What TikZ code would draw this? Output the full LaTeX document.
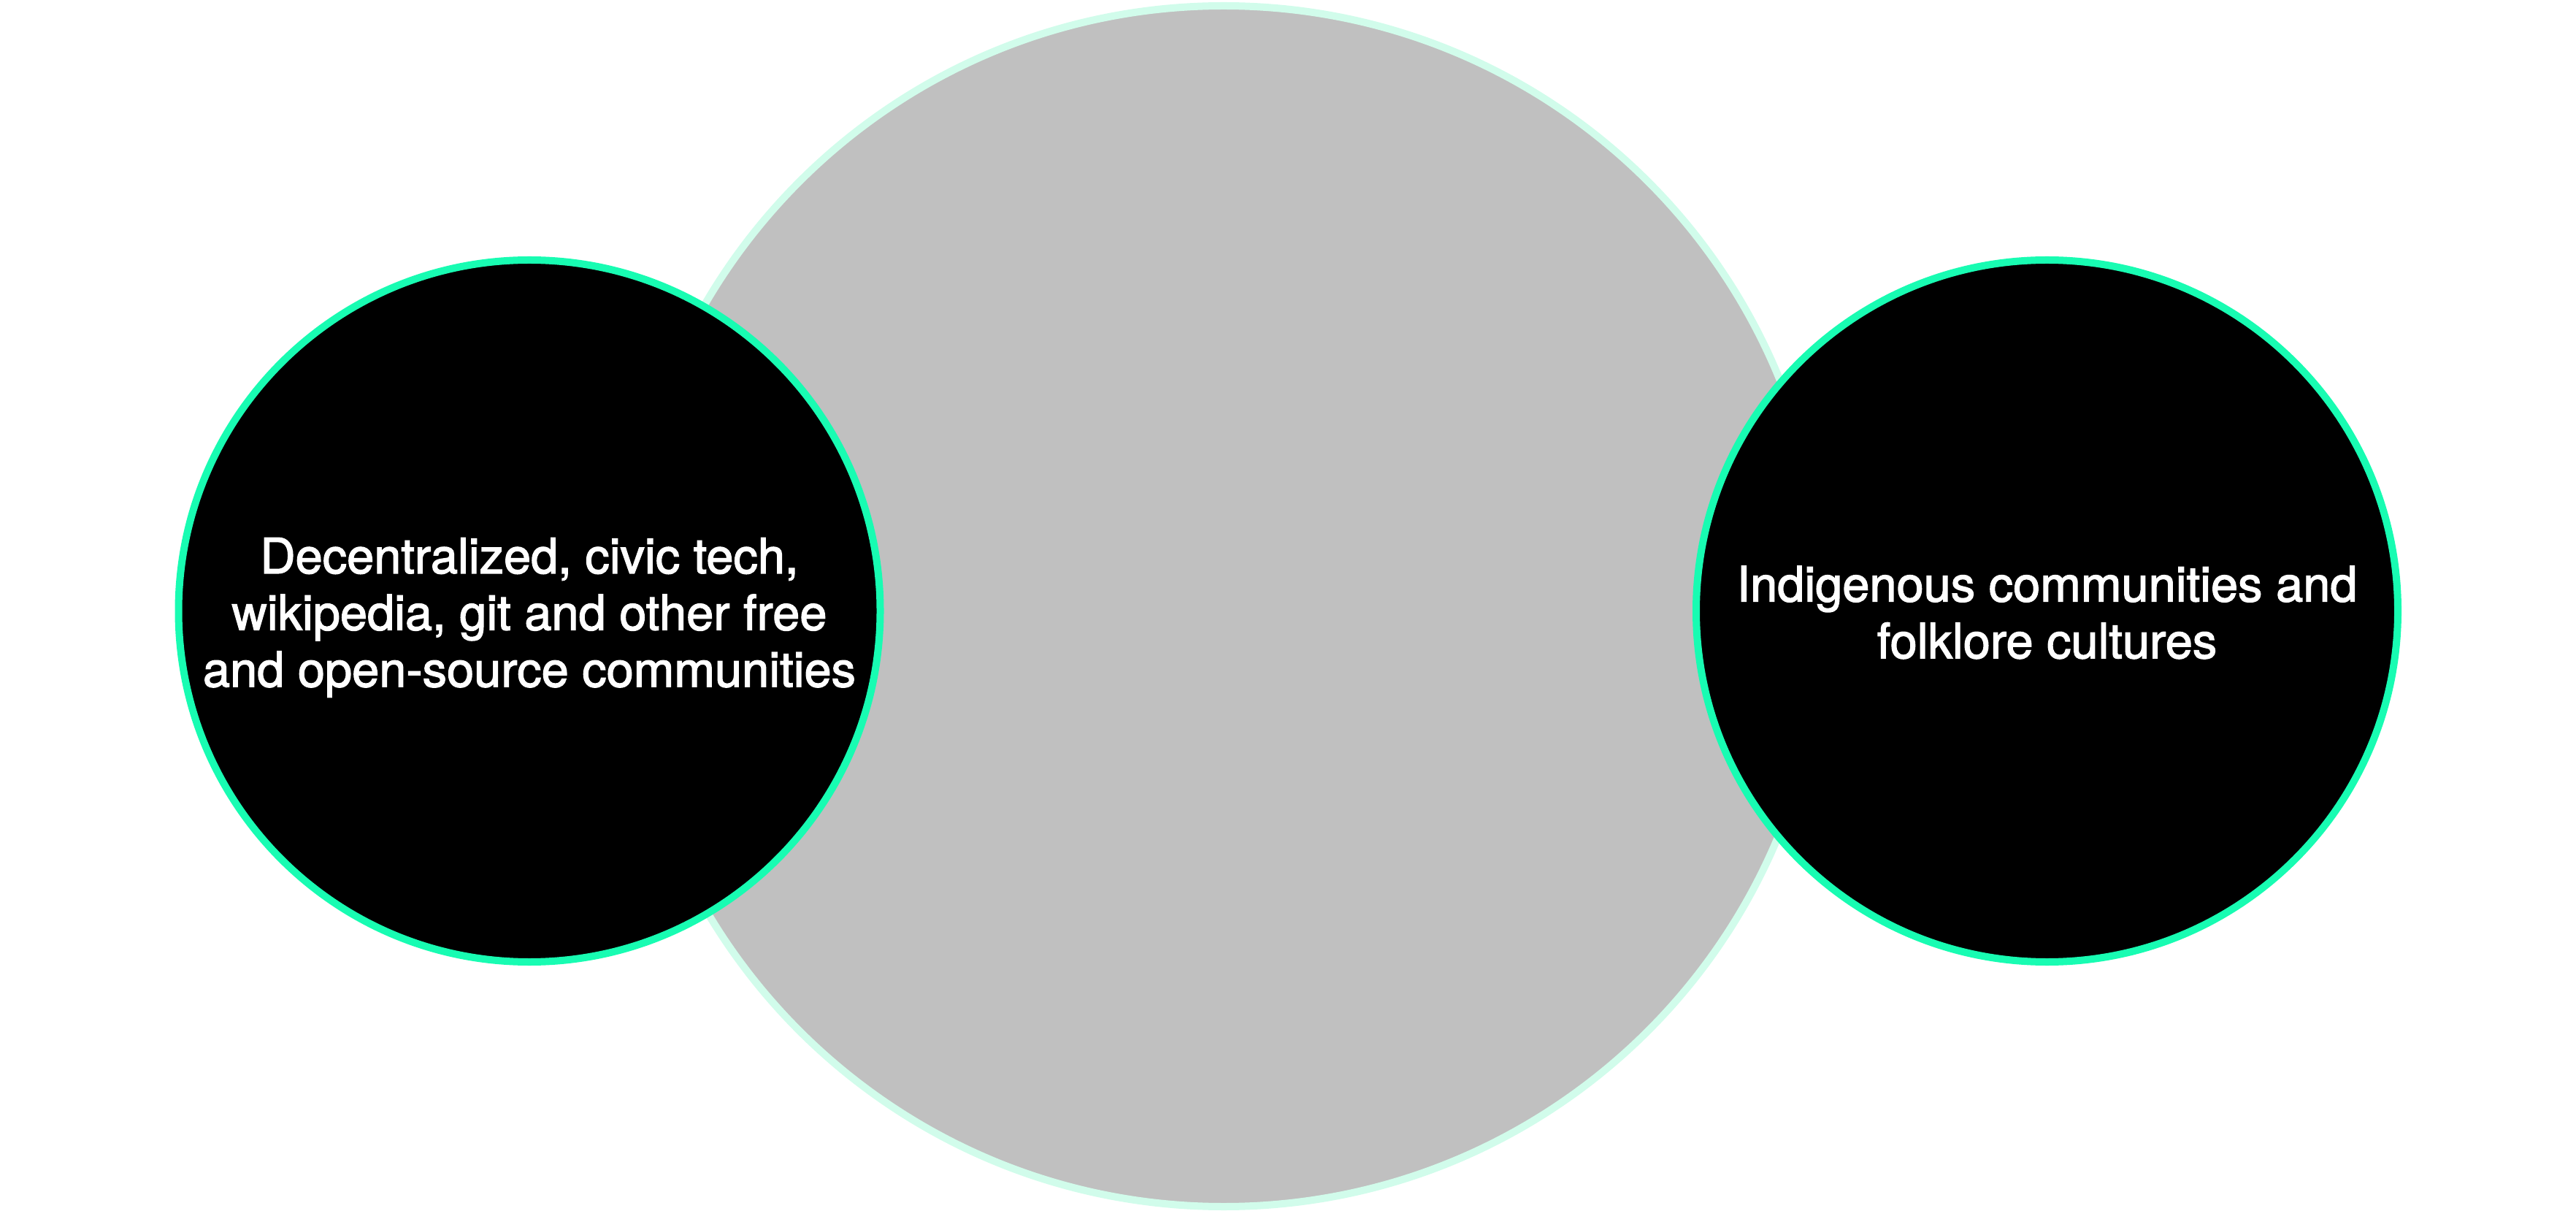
\documentclass[tikz,border=0pt]{standalone}
\usepackage{fontspec}
\setmainfont{TeX Gyre Heros}
\newfontfamily\labelfont{TeX Gyre Heros}[FakeBold=2]
\definecolor{ringgreen}{RGB}{24,252,178}
\definecolor{palegreen}{RGB}{209,252,235}
\definecolor{discgray}{RGB}{192,192,192}
\begin{document}
\begin{tikzpicture}[x=1cm,y=1cm,
  hub/.style={circle, fill=discgray, draw=palegreen, line width=0.1cm,
    minimum size=16.44cm, inner sep=0pt},
  community/.style={circle, fill=black, draw=ringgreen, line width=0.1cm,
    minimum size=9.61cm, inner sep=0pt},
  caption/.style={text=white, align=center, inner sep=0pt,
    font=\labelfont\fontsize{19}{22.1}\selectfont}]
  \useasboundingbox (0,0) rectangle (35.28,-16.58);
  % central disc behind the two communities
  \node[hub] (centre) at (16.76,-8.30) {};
  % the two community circles
  \node[community] (oss) at (7.25,-8.365) {};
  \node[community] (folk) at (28.035,-8.365) {};
  % their captions
  \node[caption] (osstext) at ([yshift=-0.09cm]oss.center)
    {Decentralized, civic tech,\\wikipedia, git and other free\\and open-source communities};
  \node[caption] (folktext) at ([yshift=-0.02cm]folk.center)
    {Indigenous communities and\\folklore cultures};
\end{tikzpicture}
\end{document}
